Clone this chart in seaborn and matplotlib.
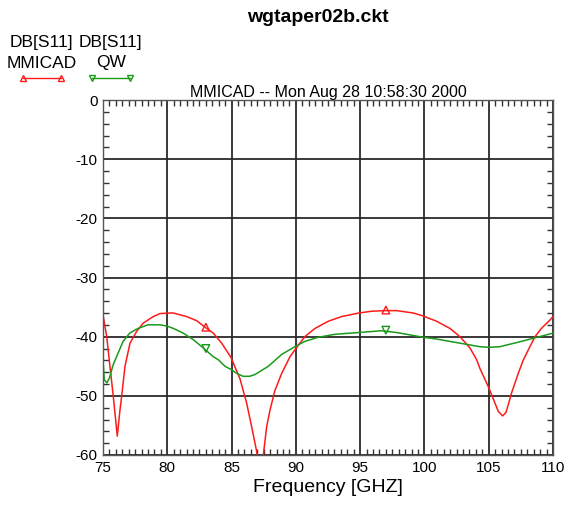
import numpy as np
import pandas as pd
import matplotlib
matplotlib.use('Agg')
import matplotlib.pyplot as plt
from matplotlib.lines import Line2D
from matplotlib.ticker import MultipleLocator
import seaborn as sns

# values
freq_mmicad = [75.0, 75.29, 75.54, 75.80, 76.11, 76.32, 76.45, 76.71, 77.10, 77.62,
               78.13, 78.91, 79.43, 80.21, 80.47, 81.5, 82.29, 82.93, 83.58, 84.23,
               84.95, 85.65, 86.17, 86.56, 86.95, 87.2, 87.47, 87.73, 87.99, 88.37,
               88.9, 89.54, 90.0, 90.7, 91.49, 92.52, 93.56, 94.9, 95.9, 96.93,
               97.84, 99.13, 99.9, 100.95, 101.98, 102.76, 103.54, 104.06, 104.32, 104.96,
               105.48, 105.74, 106.08, 106.34, 106.52, 106.78, 107.3, 107.68, 108.2, 108.6,
               109.1, 109.76, 110.0]
db_mmicad = [-36.3, -40.0, -45.0, -50.1, -56.8, -52.4, -50.1, -45.0, -41.1, -39.1,
             -37.7, -36.6, -36.1, -36.0, -36.0, -36.6, -37.3, -38.4, -39.4, -41.1,
             -43.5, -47.1, -51.2, -55.2, -59.4, -63.5, -60.0, -55.2, -52.4, -49.1,
             -46.2, -43.4, -42.0, -40.0, -38.6, -37.4, -36.6, -36.0, -35.7, -35.6,
             -35.6, -36.0, -36.5, -37.4, -38.6, -40.0, -41.9, -43.9, -45.4, -48.4,
             -51.2, -52.6, -53.4, -52.8, -51.5, -49.5, -46.2, -44.0, -41.7, -40.0,
             -38.6, -37.2, -36.6]

freq_qw = [75.0, 75.1, 75.3, 75.5, 75.78, 76.17, 76.56, 77.08, 77.73, 78.5,
           79.43, 79.95, 80.47, 81.24, 82.02, 82.8, 83.58, 83.97, 84.49, 85.0,
           85.4, 85.9, 86.4, 86.82, 87.2, 87.86, 88.9, 90.0, 90.7, 91.75,
           93.04, 94.9, 96.67, 97.84, 99.13, 99.9, 100.95, 101.98, 103.02, 104.32,
           105.0, 105.85, 107.17, 108.6, 110.0]
db_qw = [-44.0, -47.3, -47.8, -47.0, -44.8, -42.8, -40.8, -39.4, -38.6, -38.0,
         -38.0, -38.2, -38.6, -39.4, -40.5, -41.9, -43.4, -43.9, -45.0, -45.6,
         -46.2, -46.7, -46.7, -46.4, -45.9, -45.0, -43.0, -41.6, -40.8, -40.1,
         -39.6, -39.3, -39.0, -39.3, -39.8, -40.1, -40.4, -40.8, -41.2, -41.7,
         -41.8, -41.7, -41.0, -40.2, -39.4]

marker_freq = [83, 97]
marker_mmicad = [-38.4, -35.5]
marker_qw = [-42.0, -38.9]

title = 'wgtaper02b.ckt'
subtitle = 'MMICAD -- Mon Aug 28 10:58:30 2000'

sns.set_style('white')
plt.rcParams['font.family'] = ['Liberation Sans', 'DejaVu Sans']
plt.rcParams['axes.unicode_minus'] = False
plt.rcParams['text.color'] = 'black'
plt.rcParams['axes.labelcolor'] = 'black'
plt.rcParams['xtick.color'] = 'black'
plt.rcParams['ytick.color'] = 'black'

red = '#ff1a1a'
green = '#1a9a1a'

fig = plt.figure(figsize=(5.68, 5.08), dpi=100)
ax = fig.add_axes([103 / 568, 1 - 455 / 508, 450 / 568, 355 / 508])

df_m = pd.DataFrame({'freq': freq_mmicad, 'db': db_mmicad})
df_q = pd.DataFrame({'freq': freq_qw, 'db': db_qw})
sns.lineplot(data=df_m, x='freq', y='db', ax=ax, color=red, lw=1.1, sort=False)
sns.lineplot(data=df_q, x='freq', y='db', ax=ax, color=green, lw=1.1, sort=False)
sns.scatterplot(x=marker_freq, y=marker_mmicad, ax=ax, marker='^', s=30,
                facecolor='none', edgecolor=red, linewidth=1)
sns.scatterplot(x=marker_freq, y=marker_qw, ax=ax, marker='v', s=30,
                facecolor='none', edgecolor=green, linewidth=1)

ax.set_xlim(75, 110)
ax.set_ylim(-60, 0)
ax.set_xticks(np.arange(75, 111, 5))
ax.set_yticks(np.arange(-60, 1, 10))
ax.xaxis.set_minor_locator(MultipleLocator(0.5))
ax.yaxis.set_minor_locator(MultipleLocator(2))
ax.grid(True, which='major', color='#2a2a2a', lw=1.3)
ax.tick_params(which='both', direction='in', top=True, right=True, bottom=True, left=True,
               labelsize=11, color='#333333')
ax.tick_params(which='major', length=0, pad=4)
ax.tick_params(which='minor', length=4, width=1)
for s in ax.spines.values():
    s.set_color('#555555')
    s.set_linewidth(1)
ax.set_xlabel('Frequency [GHZ]', fontsize=14, labelpad=3)
ax.set_ylabel('')
ax.set_title(subtitle, fontsize=11.5, pad=2)

fig.text(318 / 568, 1 - 18 / 508, title, ha='center', va='center', fontsize=14,
         fontweight='bold')

# legend block in the top-left corner
fig.text(41 / 568, 1 - 42 / 508, 'DB[S11]', ha='center', va='center', fontsize=12.5)
fig.text(42 / 568, 1 - 63 / 508, 'MMICAD', ha='center', va='center', fontsize=12.5)
fig.text(110 / 568, 1 - 42 / 508, 'DB[S11]', ha='center', va='center', fontsize=12.5)
fig.text(111 / 568, 1 - 63 / 508, 'QW', ha='center', va='center', fontsize=12.5)
fig.add_artist(Line2D([23 / 568, 61 / 568], [1 - 78 / 508, 1 - 78 / 508], color=red, lw=1,
                      marker='^', markersize=5, markerfacecolor='none', transform=fig.transFigure))
fig.add_artist(Line2D([92 / 568, 130 / 568], [1 - 78 / 508, 1 - 78 / 508], color=green, lw=1,
                      marker='v', markersize=5, markerfacecolor='none', transform=fig.transFigure))

fig.savefig('out.png', dpi=100, facecolor='w')
